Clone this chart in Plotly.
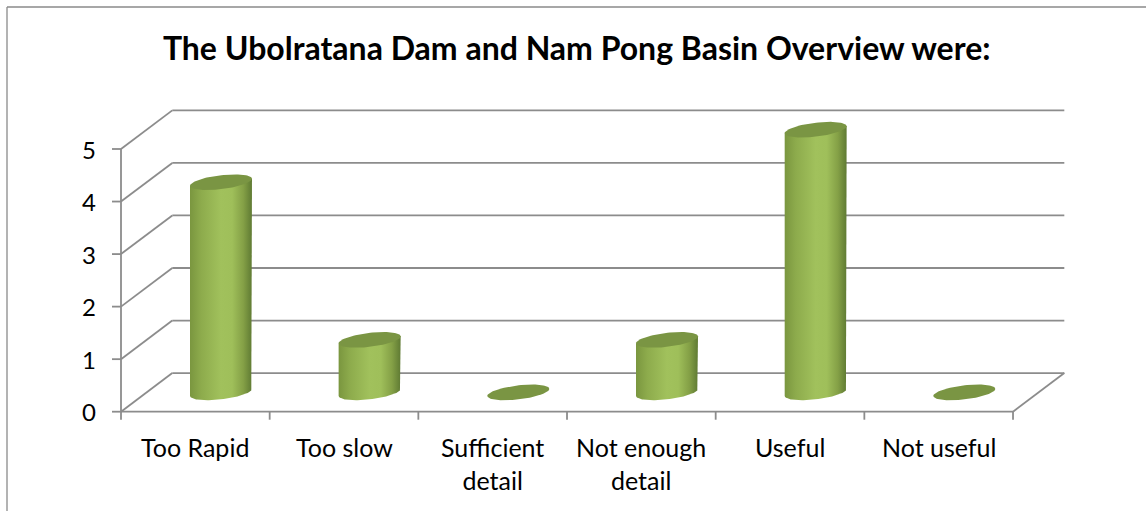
import numpy as np
import plotly.graph_objects as go

# ---- data ----
categories = ["Too Rapid", "Too slow", "Sufficient<br>detail", "Not enough<br>detail", "Useful", "Not useful"]
values = [4, 1, 0, 1, 5, 0]
y_ticks = [0, 1, 2, 3, 4, 5]
title_text = "The Ubolratana Dam and Nam Pong Basin Overview were:"

# ---- geometry / style ----
W, H = 1146, 511
XU, YU = 148.67, 52.54            # px per unit
X0PX, Y0PX = 121.0, 411.7         # pixel of (x=-0.5, y=0)
xr = [-0.5 - X0PX / XU, -0.5 - X0PX / XU + W / XU]
yr = [-(H - Y0PX) / YU, Y0PX / YU]
DX, DY = 0.345, 0.735             # depth offset of back wall
GRID = "#8c8c8c"
GW = 1.8
n = len(categories)
ymax = max(y_ticks)

fig = go.Figure()
shapes = []

def line(x0, y0, x1, y1, color=GRID, width=GW):
    shapes.append(dict(type="line", xref="x", yref="y", x0=x0, y0=y0, x1=x1, y1=y1,
                       line=dict(color=color, width=width), layer="below"))

left, right = -0.5, n - 0.5
# back wall gridlines + side wall diagonals
for k in y_ticks:
    line(left + DX, k + DY, right + DX, k + DY)
    line(left, k, left + DX, k + DY)
    # y tick marks
    line(left - 9 / XU, k, left, k)
# floor right diagonal & front floor
line(right, 0, right + DX, DY)
line(left, 0, right, 0)
# front vertical axis
line(left, 0, left, ymax)
# x tick marks
for i in range(n + 1):
    line(left + i, 0, left + i, -8 / YU)

# ---- cylinders ----
a = 31 / XU
b = 7.0 / YU
s = 3.5 / YU
body_scale = [[0.0, "#7a963f"], [0.18, "#8dab4c"], [0.5, "#a1c15c"], [0.68, "#9fbf5a"],
              [0.86, "#84a046"], [1.0, "#5f7a33"]]
top_col = "#7a9543"

def ellipse(cx, cy, t):
    return cx + a * np.cos(t), cy + b * np.sin(t) + s * np.cos(t)

for i, v in enumerate(values):
    cx = i + DX / 2
    cb = DY / 2
    ct = v + DY / 2
    if v > 0:
        tb = np.linspace(2 * np.pi, np.pi, 60)
        exb, eyb = ellipse(cx, cb, tb)
        xs = [cx - a, cx - a, cx + a, cx + a] + list(exb)
        ys = [cb - s, ct - s, ct + s, cb + s] + list(eyb)
        fig.add_trace(go.Scatter(x=xs, y=ys, mode="lines", fill="toself",
                                 line=dict(width=0), hoverinfo="skip", showlegend=False,
                                 fillgradient=dict(type="horizontal", colorscale=body_scale)))
    t = np.linspace(0, 2 * np.pi, 90)
    ex, ey = ellipse(cx, ct, t)
    fig.add_trace(go.Scatter(x=ex, y=ey, mode="lines", fill="toself", fillcolor=top_col,
                             line=dict(width=0, color=top_col), hoverinfo="skip",
                             showlegend=False))

# ---- text ----
annotations = []
for k in y_ticks:
    annotations.append(dict(x=left, y=k, xref="x", yref="y", text=str(k), showarrow=False,
                            xanchor="right", yanchor="middle", xshift=-23,
                            font=dict(family="Lato", size=24, color="#000000")))
for i, c in enumerate(categories):
    annotations.append(dict(x=i, y=0, xref="x", yref="y", text=c, showarrow=False,
                            xanchor="center", yanchor="top", yshift=-18,
                            font=dict(family="Lato", size=25, color="#000000")))

# chart border (left & top)
shapes.append(dict(type="line", xref="paper", yref="paper", x0=7 / W, x1=7 / W, y0=0, y1=1 - 7 / H,
                   line=dict(color="#8a8a8a", width=1.3)))
shapes.append(dict(type="line", xref="paper", yref="paper", x0=7 / W, x1=1, y0=1 - 7 / H, y1=1 - 7 / H,
                   line=dict(color="#8a8a8a", width=1.3)))

fig.update_layout(
    width=W, height=H, autosize=False,
    margin=dict(l=0, r=0, t=0, b=0, pad=0),
    paper_bgcolor="white", plot_bgcolor="white",
    xaxis=dict(range=xr, visible=False, fixedrange=True),
    yaxis=dict(range=yr, visible=False, fixedrange=True),
    shapes=shapes, annotations=annotations,
    title=dict(text="<b>" + title_text + "</b>", x=576.7 / W, xanchor="center",
               yref="container", y=1 - 49 / H, yanchor="middle",
               font=dict(family="Lato", size=32, color="#000000")),
    showlegend=False,
)

fig.write_html("out.html")
